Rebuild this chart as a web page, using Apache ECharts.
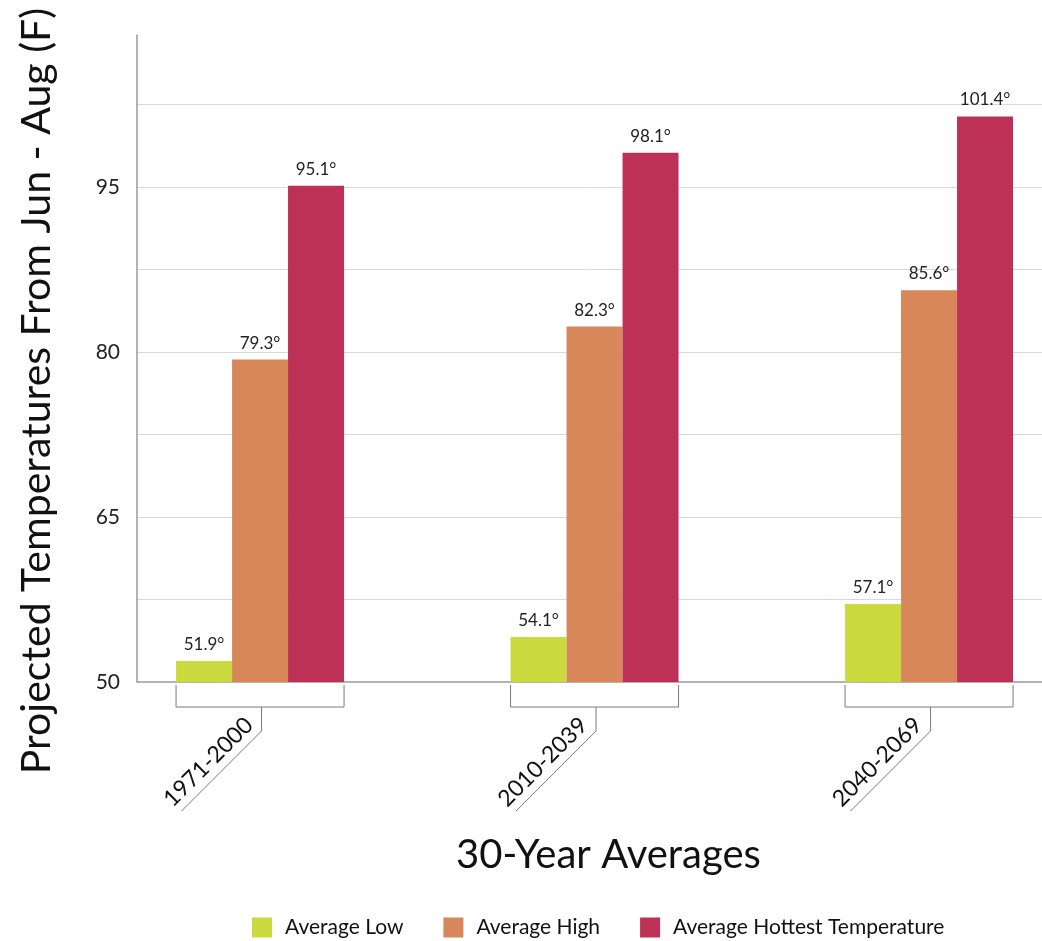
<!DOCTYPE html>
<html>
<head>
<meta charset="utf-8">
<script src="https://cdn.jsdelivr.net/npm/echarts@6/dist/echarts.min.js"></script>
<style>
  html, body { margin: 0; padding: 0; background: #ffffff; }
  #chart { width: 1042px; height: 941px; }
</style>
</head>
<body>
<div id="chart"></div>
<script>
// ---- data ----
const categories = ['1971-2000', '2010-2039', '2040-2069'];
const averageLow = [51.9, 54.1, 57.1];
const averageHigh = [79.3, 82.3, 85.6];
const averageHottest = [95.1, 98.1, 101.4];
const seriesNames = ['Average Low', 'Average High', 'Average Hottest Temperature'];
const yTickLabels = [50, 65, 80, 95];

// ---- styling ----
const FONT = 'Lato, "Open Sans", sans-serif';
const COLORS = ['#C9D93E', '#D8875A', '#BE3157'];
const BAR_W = 56;
const Y_MIN = 50, Y_MAX = 108.8, Y_INT = 7.5;
const GRID_TOP = 35, GRID_BOTTOM = 259;

const chart = echarts.init(document.getElementById('chart'), null, { renderer: 'canvas' });

function barSeries(name, data, color) {
  return {
    name: name,
    type: 'bar',
    xAxisIndex: 0,
    yAxisIndex: 0,
    data: data,
    barWidth: BAR_W,
    barGap: '0%',
    itemStyle: { color: color },
    label: {
      show: true,
      position: 'top',
      distance: 8,
      fontFamily: FONT,
      fontSize: 17,
      color: '#222',
      formatter: p => p.value.toFixed(1) + '°'
    },
    emphasis: { disabled: true },
    z: 3
  };
}

const bracketSeries = {
  type: 'custom',
  xAxisIndex: 0,
  yAxisIndex: 0,
  silent: true,
  clip: false,
  data: categories.map((c, i) => [i, Y_MIN]),
  renderItem: function (params, api) {
    const p = api.coord([api.value(0), api.value(1)]);
    const cx = p[0], y0 = p[1];
    const half = BAR_W * 1.5;
    const stroke = { stroke: '#7a7a7a', lineWidth: 1, fill: null };
    return {
      type: 'group',
      children: [
        { type: 'polyline', shape: { points: [[cx - half, y0 + 3], [cx - half, y0 + 25], [cx + half, y0 + 25], [cx + half, y0 + 3]] }, style: stroke },
        { type: 'polyline', shape: { points: [[cx + 1.5, y0 + 25], [cx + 1.5, y0 + 49], [cx + 1.5 - 80, y0 + 129]] }, style: stroke }
      ]
    };
  },
  z: 2
};

const option = {
  backgroundColor: '#ffffff',
  animation: false,
  textStyle: { fontFamily: FONT },
  legend: {
    data: seriesNames,
    top: 912,
    left: 247,
    icon: 'rect',
    itemWidth: 20,
    itemHeight: 20,
    itemGap: 40,
    textStyle: { fontFamily: FONT, fontSize: 21, color: '#111', padding: [0, 0, 0, 8] },
    selectedMode: false
  },
  grid: [
    { left: 92.8, width: 1003.5, top: GRID_TOP, bottom: GRID_BOTTOM, outerBoundsMode: 'none', containLabel: false },
    { left: 137, right: 0, top: GRID_TOP, bottom: GRID_BOTTOM, outerBoundsMode: 'none', containLabel: false }
  ],
  xAxis: [
    {
      type: 'category',
      gridIndex: 0,
      data: categories,
      axisLine: { show: false },
      axisTick: { show: false },
      axisLabel: {
        rotate: 45,
        margin: 46,
        align: 'right',
        verticalAlign: 'bottom',
        fontFamily: FONT,
        fontSize: 23,
        color: '#111',
        padding: [0, 3, 1, 0]
      }
    },
    {
      type: 'value',
      gridIndex: 1,
      min: 0,
      max: 1,
      axisLine: { show: true, lineStyle: { color: '#9a9a9a', width: 1.5 } },
      axisTick: { show: false },
      axisLabel: { show: false },
      splitLine: { show: false },
      name: '30-Year Averages',
      nameLocation: 'middle',
      nameGap: 153,
      nameTextStyle: { fontFamily: FONT, fontSize: 40, color: '#111', padding: [0, 0, 0, 38] }
    }
  ],
  yAxis: [
    {
      type: 'value',
      gridIndex: 0,
      min: Y_MIN,
      max: Y_MAX,
      interval: Y_INT,
      show: false,
      splitLine: { show: false }
    },
    {
      type: 'value',
      gridIndex: 1,
      min: Y_MIN,
      max: Y_MAX,
      interval: Y_INT,
      axisLine: { show: true, lineStyle: { color: '#9a9a9a', width: 1.5 } },
      axisTick: { show: false },
      axisLabel: {
        margin: 17,
        fontFamily: FONT,
        fontSize: 21,
        color: '#222',
        showMaxLabel: false,
        formatter: v => (yTickLabels.indexOf(v) >= 0 ? String(v) : '')
      },
      splitLine: { show: true, showMinLine: false, showMaxLine: false, lineStyle: { color: '#d9d9d9', width: 1 } },
      name: 'Projected Temperatures From Jun - Aug (F)',
      nameLocation: 'middle',
      nameGap: 80,
      nameTextStyle: { fontFamily: FONT, fontSize: 41, color: '#111', padding: [0, 65, 0, 0] }
    }
  ],
  series: [
    barSeries(seriesNames[0], averageLow, COLORS[0]),
    barSeries(seriesNames[1], averageHigh, COLORS[1]),
    barSeries(seriesNames[2], averageHottest, COLORS[2]),
    bracketSeries
  ]
};

chart.setOption(option);
</script>
</body>
</html>
